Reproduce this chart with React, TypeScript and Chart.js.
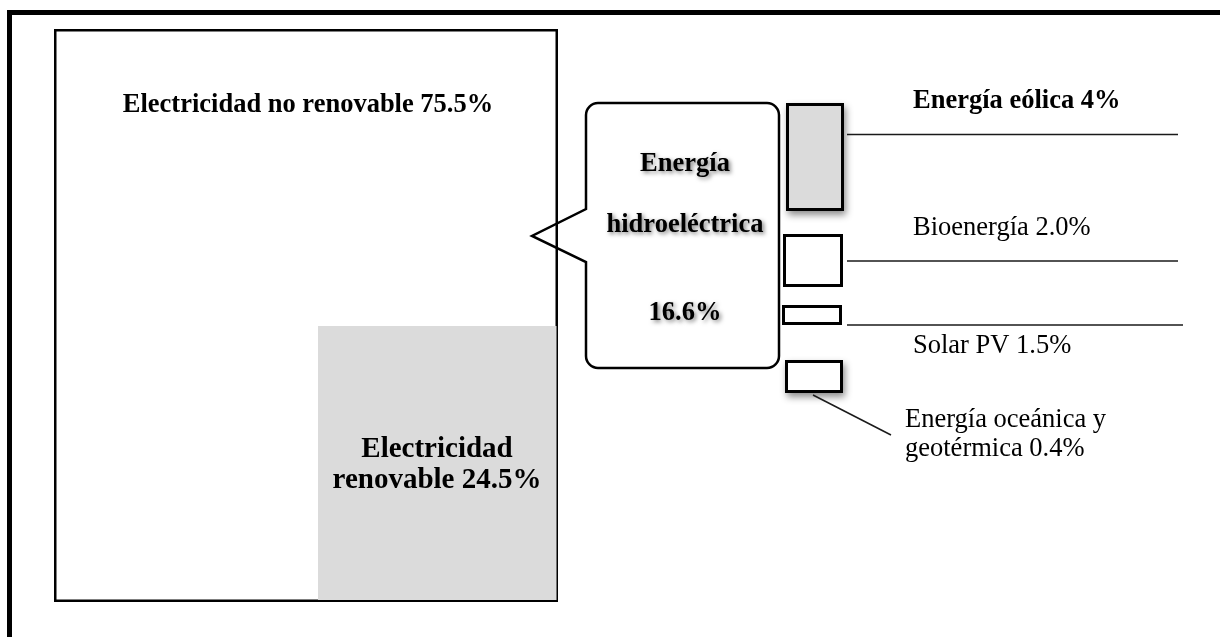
import React, { useEffect, useRef } from 'react';
import { Chart, registerables } from 'chart.js';

Chart.register(...registerables);

// ---------- data ----------
const categories = [
  'Electricidad no renovable',
  'Electricidad renovable',
  'Energía hidroeléctrica',
  'Energía eólica',
  'Bioenergía',
  'Solar PV',
  'Energía oceánica y geotérmica',
];
const shares = [75.5, 24.5, 16.6, 4, 2.0, 1.5, 0.4];
const shareDecimals = [1, 1, 1, 0, 1, 1, 1];
const shareLabels = shares.map((v, i) => v.toFixed(shareDecimals[i]) + '%');

// ---------- layout (pixel units of hidden linear scales) ----------
const W = 1220;
const H = 637;
const SERIF = '"Liberation Serif", "Times New Roman", Times, serif';
const GRAY = '#dbdbdb';

const boxLayout = [
  { cat: 0, x0: 54, x1: 558, y0: 29, y1: 602, fill: 'rgba(0,0,0,0)', border: 2.5, shadow: false },
  { cat: 1, x0: 318, x1: 556.5, y0: 326, y1: 600, fill: GRAY, border: 0, shadow: false },
  { cat: 3, x0: 786, x1: 844, y0: 103, y1: 211, fill: GRAY, border: 3, shadow: true },
  { cat: 4, x0: 783, x1: 843, y0: 234, y1: 287, fill: '#ffffff', border: 3, shadow: false },
  { cat: 5, x0: 782, x1: 842, y0: 305, y1: 325, fill: '#ffffff', border: 3, shadow: false },
  { cat: 6, x0: 785, x1: 843, y0: 360, y1: 393, fill: '#ffffff', border: 3, shadow: true },
];

const frameLayout = { x: 9.5, y: 12.5, width: 5 };

const connectorLayout = [
  { cat: 3, from: [847, 134.5], to: [1178, 134.5] },
  { cat: 4, from: [847, 261], to: [1178, 261] },
  { cat: 5, from: [847, 325], to: [1183, 325] },
  { cat: 6, from: [813, 395], to: [891, 435] },
];

const calloutLayout = { cat: 2, x0: 586, x1: 779, y0: 103, y1: 368, r: 12, tipX: 532, tipY: 236, joinY0: 209, joinY1: 262, border: 2.5 };

const labelLayout = [
  { cat: 0, x: 308, align: 'center', baselines: [112], split: [4], weight: 'bold', size: 26.5, shadow: false },
  { cat: 1, x: 437, align: 'center', baselines: [457, 488], split: [1, 2], weight: 'bold', size: 29, shadow: false },
  { cat: 2, x: 685, align: 'center', baselines: [171, 232, 320], split: [1, 1, 1], weight: 'bold', size: 26.5, shadow: true },
  { cat: 3, x: 913, align: 'left', baselines: [108], split: [3], weight: 'bold', size: 26.5, shadow: false },
  { cat: 4, x: 913, align: 'left', baselines: [235], split: [2], weight: 'normal', size: 26.5, shadow: false },
  { cat: 5, x: 913, align: 'left', baselines: [353], split: [3], weight: 'normal', size: 26.5, shadow: false },
  { cat: 6, x: 905, align: 'left', baselines: [427, 456], split: [3, 2], weight: 'normal', size: 26.5, shadow: false },
];

function splitLines(text: string, counts: number[]): string[] {
  const words = text.split(' ');
  let i = 0;
  return counts.map((c) => {
    const s = words.slice(i, i + c).join(' ');
    i += c;
    return s;
  });
}

const diagramPlugin = {
  id: 'diagram',
  beforeDatasetsDraw(chart: any) {
    const { ctx } = chart;
    const xs = chart.scales.x;
    const ys = chart.scales.y;
    const c = calloutLayout;
    const L = xs.getPixelForValue(c.x0);
    const R = xs.getPixelForValue(c.x1);
    const T = ys.getPixelForValue(c.y0);
    const B = ys.getPixelForValue(c.y1);
    const r = c.r;
    const tx = xs.getPixelForValue(c.tipX);
    const ty = ys.getPixelForValue(c.tipY);
    const j0 = ys.getPixelForValue(c.joinY0);
    const j1 = ys.getPixelForValue(c.joinY1);
    ctx.save();
    ctx.beginPath();
    ctx.moveTo(L + r, T);
    ctx.lineTo(R - r, T);
    ctx.arcTo(R, T, R, T + r, r);
    ctx.lineTo(R, B - r);
    ctx.arcTo(R, B, R - r, B, r);
    ctx.lineTo(L + r, B);
    ctx.arcTo(L, B, L, B - r, r);
    ctx.lineTo(L, j1);
    ctx.lineTo(tx, ty);
    ctx.lineTo(L, j0);
    ctx.lineTo(L, T + r);
    ctx.arcTo(L, T, L + r, T, r);
    ctx.closePath();
    ctx.fillStyle = '#ffffff';
    ctx.fill();
    ctx.lineWidth = c.border;
    ctx.strokeStyle = '#000000';
    ctx.lineJoin = 'miter';
    ctx.stroke();
    ctx.restore();
  },
  beforeDatasetDraw(chart: any, args: any) {
    const ds = chart.data.datasets[args.index];
    if (!ds.dropShadow) return;
    const el = args.meta.data[0];
    if (!el) return;
    const { x, y, base, width } = el.getProps(['x', 'y', 'base', 'width'], true);
    const top = Math.min(y, base);
    const h = Math.abs(base - y);
    const ctx = chart.ctx;
    ctx.save();
    ctx.shadowColor = 'rgba(0,0,0,0.45)';
    ctx.shadowBlur = 7;
    ctx.shadowOffsetX = 2;
    ctx.shadowOffsetY = 4;
    ctx.fillStyle = '#ffffff';
    ctx.fillRect(x - width / 2, top, width, h);
    ctx.restore();
  },
  afterDatasetsDraw(chart: any) {
    const { ctx } = chart;
    const xs = chart.scales.x;
    const ys = chart.scales.y;
    labelLayout.forEach((lab) => {
      const full = categories[lab.cat] + ' ' + shareLabels[lab.cat];
      const lines = splitLines(full, lab.split);
      ctx.save();
      ctx.font = `${lab.weight} ${lab.size}px ${SERIF}`;
      ctx.textAlign = lab.align;
      ctx.textBaseline = 'alphabetic';
      ctx.fillStyle = '#000000';
      if (lab.shadow) {
        ctx.shadowColor = 'rgba(0,0,0,0.5)';
        ctx.shadowBlur = 4;
        ctx.shadowOffsetX = 2;
        ctx.shadowOffsetY = 2;
      }
      lines.forEach((line, i) => {
        ctx.fillText(line, xs.getPixelForValue(lab.x), ys.getPixelForValue(lab.baselines[i]));
      });
      ctx.restore();
    });
  },
};

export default function App() {
  const canvasRef = useRef<HTMLCanvasElement | null>(null);

  useEffect(() => {
    document.body.style.margin = '0';
    const canvas = canvasRef.current;
    if (!canvas) return;

    const datasets: any[] = [];

    datasets.push({
      type: 'line',
      label: 'frame',
      data: [
        { x: frameLayout.x, y: H + 10 },
        { x: frameLayout.x, y: frameLayout.y },
        { x: W + 10, y: frameLayout.y },
      ],
      borderColor: '#000000',
      borderWidth: frameLayout.width,
      borderJoinStyle: 'miter',
      borderCapStyle: 'butt',
      pointRadius: 0,
      fill: false,
      tension: 0,
      clip: false,
    });

    boxLayout.forEach((b) => {
      datasets.push({
        type: 'bar',
        label: categories[b.cat],
        data: [{ x: (b.x0 + b.x1) / 2, y: [b.y0, b.y1] }],
        barThickness: b.x1 - b.x0,
        backgroundColor: b.fill,
        borderColor: '#000000',
        borderWidth: b.border,
        borderSkipped: false,
        inflateAmount: 0,
        grouped: true,
        stack: 'boxes',
        dropShadow: b.shadow,
      });
    });

    connectorLayout.forEach((c) => {
      datasets.push({
        type: 'line',
        label: categories[c.cat] + ' connector',
        data: [
          { x: c.from[0], y: c.from[1] },
          { x: c.to[0], y: c.to[1] },
        ],
        borderColor: '#1a1a1a',
        borderWidth: 1.5,
        pointRadius: 0,
        fill: false,
        tension: 0,
      });
    });

    datasets.forEach((d, i) => {
      d.order = -i;
    });

    const chart = new Chart(canvas, {
      type: 'bar',
      data: { datasets },
      options: {
        responsive: false,
        animation: false,
        events: [],
        layout: { padding: 0 },
        plugins: {
          legend: { display: false },
          tooltip: { enabled: false },
        },
        scales: {
          x: { type: 'linear', min: 0, max: W, display: false, offset: false },
          y: { type: 'linear', min: 0, max: H, reverse: true, display: false, stacked: false },
        },
      } as any,
      plugins: [diagramPlugin as any],
    });

    return () => {
      chart.destroy();
    };
  }, []);

  return (
    <div style={{ position: 'fixed', left: 0, top: 0, width: W, height: H, background: '#ffffff', overflow: 'hidden' }}>
      <canvas ref={canvasRef} width={W} height={H} style={{ display: 'block', width: W, height: H }} />
    </div>
  );
}
